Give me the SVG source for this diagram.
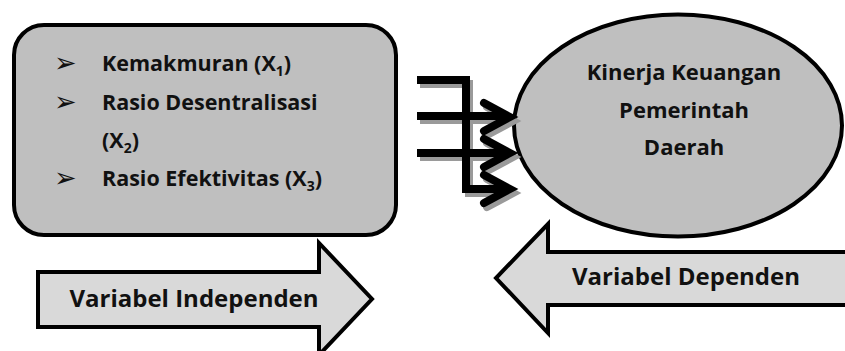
<svg xmlns="http://www.w3.org/2000/svg" width="845" height="351" viewBox="0 0 845 351">
<style>
.t{font-family:"Open Sans","Liberation Sans",sans-serif;font-weight:bold;fill:#111}
.bul{font-family:"DejaVu Sans",sans-serif;font-size:27px;fill:#111}
.box{fill:#bfbfbf;stroke:#000;stroke-width:4}
.blk{fill:#d9d9d9;stroke:#000;stroke-width:4;stroke-linejoin:miter}
.ln{fill:none;stroke:#000;stroke-width:8;stroke-linecap:butt;stroke-linejoin:miter}
.hd{fill:none;stroke:#000;stroke-width:8;stroke-linecap:round;stroke-linejoin:miter}
.sh .ln,.sh .hd{stroke:#9a9a9a}
</style>
<g id="independent-box">
<rect class="box" x="14" y="25" width="382" height="210" rx="30" ry="30"/>
<text class="bul" x="54" y="72">➢</text>
<text class="bul" x="54" y="111">➢</text>
<text class="bul" x="54" y="187">➢</text>
<text class="t" font-size="21.5" x="102" y="71">Kemakmuran (X<tspan font-size="14" dy="5">1</tspan><tspan dy="-5">)</tspan></text>
<text class="t" font-size="21.5" x="102" y="110">Rasio Desentralisasi</text>
<text class="t" font-size="21.5" x="102" y="148">(X<tspan font-size="14" dy="5">2</tspan><tspan dy="-5">)</tspan></text>
<text class="t" font-size="21.5" x="102" y="186">Rasio Efektivitas (X<tspan font-size="14" dy="5">3</tspan><tspan dy="-5">)</tspan></text>
</g>
<g id="dependent-ellipse">
<ellipse class="box" cx="678" cy="125.5" rx="164" ry="111"/>
<text class="t" font-size="22" x="684" y="80" text-anchor="middle">Kinerja Keuangan</text>
<text class="t" font-size="22" x="684" y="118" text-anchor="middle">Pemerintah</text>
<text class="t" font-size="22" x="684" y="155" text-anchor="middle">Daerah</text>
</g>
<g id="connectors">
<g class="sh" transform="translate(3,4)">
<path class="ln" d="M417 80 H466 V189 H508"/>
<path class="ln" d="M417 116 H508"/>
<path class="ln" d="M417 153 H508"/>
<path class="hd" d="M484 103 L510 117 L484 131"/>
<path class="hd" d="M484 139 L510 153 L484 167"/>
<path class="hd" d="M484 175 L510 189 L484 203"/>
</g>
<path class="ln" d="M417 80 H466 V189 H508"/>
<path class="ln" d="M417 116 H508"/>
<path class="ln" d="M417 153 H508"/>
<path class="hd" d="M484 103 L510 117 L484 131"/>
<path class="hd" d="M484 139 L510 153 L484 167"/>
<path class="hd" d="M484 175 L510 189 L484 203"/>
</g>
<g id="independent-arrow">
<path class="blk" d="M38 272 H319 V243 L372 299 L319 355 V327 H38 Z"/>
<text class="t" font-size="24" x="194" y="307" text-anchor="middle">Variabel Independen</text>
</g>
<g id="dependent-arrow">
<path class="blk" d="M850 252 H548 V224 L496 278 L548 333 V305 H850"/>
<text class="t" font-size="24" x="686" y="285" text-anchor="middle">Variabel Dependen</text>
</g>
</svg>
